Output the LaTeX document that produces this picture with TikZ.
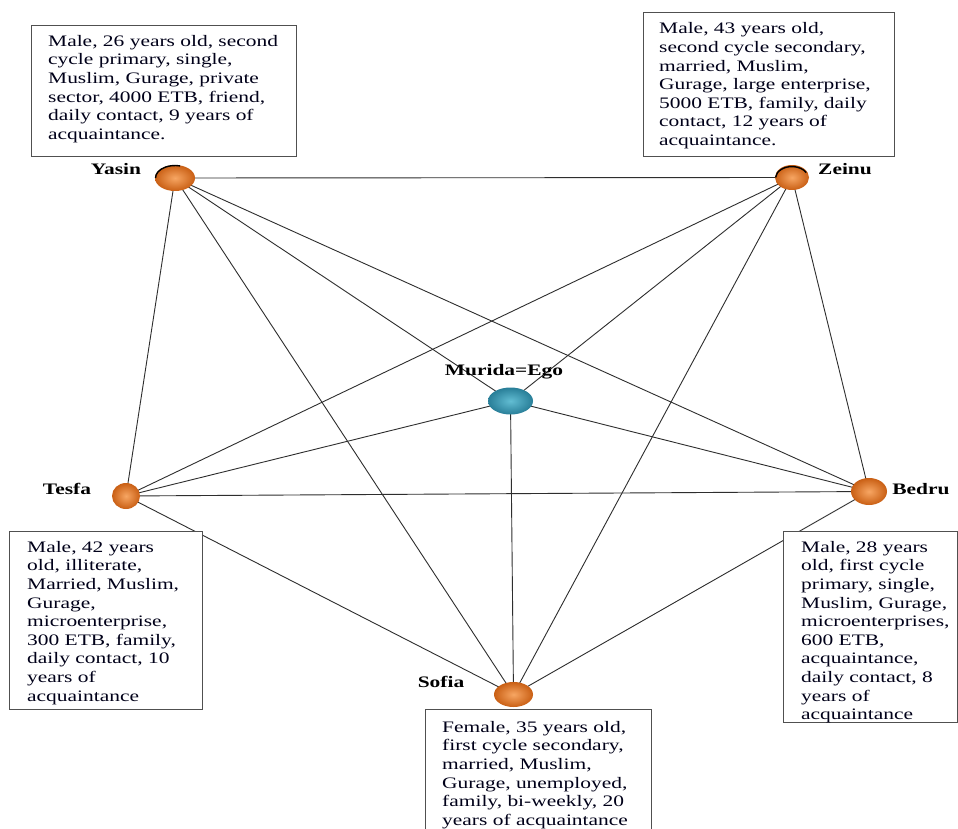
\documentclass[tikz,border=0pt]{standalone}
\usepackage{fontspec}
\setmainfont{Liberation Serif}[FakeStretch=1.34]
\usetikzlibrary{shapes.geometric}
\pgfdeclarelayer{background}
\pgfsetlayers{background,main}

\definecolor{alterfill}{HTML}{E8782A}
\definecolor{alterlight}{HTML}{F7A663}
\definecolor{alterdark}{HTML}{C95F14}
\definecolor{egolight}{HTML}{62BDD3}
\definecolor{egodark}{HTML}{287E98}
\definecolor{tieline}{HTML}{2E2E2E}
\definecolor{boxline}{HTML}{505050}

\tikzset{
  alter/.style={ellipse, inner sep=0pt, draw=none,
    inner color=alterlight, outer color=alterdark},
  egonode/.style={ellipse, inner sep=0pt, draw=none,
    inner color=egolight, outer color=egodark},
  name label/.style={anchor=base, inner sep=0pt, font=\fontsize{16}{18}\selectfont\bfseries},
  tie/.style={draw=tieline, line width=0.9pt},
  infoframe/.style={draw=boxline, line width=1.3pt, anchor=north west,
    inner sep=0pt, fill=white},
  infotext/.style={anchor=north west, inner sep=0pt, align=left,
    font=\fontsize{16}{18.6}\selectfont, text=black!90!blue},
  rim/.style={line width=1.4pt, black}
}

\begin{document}
\begin{tikzpicture}[x=1pt, y=-1pt]
\useasboundingbox (0,0) rectangle (958,829);
\clip (0,0) rectangle (958,829);

% actors of the personal network
\node[alter, minimum width=40pt, minimum height=26pt] (yasin) at (175,178) {};
\node[alter, minimum width=34pt, minimum height=25pt] (zeinu) at (792,177.5) {};
\node[alter, minimum width=28pt, minimum height=26pt] (tesfa) at (126,496) {};
\node[alter, minimum width=36pt, minimum height=27pt] (bedru) at (869,491.5) {};
\node[alter, minimum width=39pt, minimum height=25pt] (sofia) at (513.5,694.5) {};
\node[egonode, minimum width=45pt, minimum height=27pt] (ego) at (510.5,401) {};

% dark rims on the upper edge of two actors
\draw[rim] ([shift={(-19.5,0)}]yasin.center) arc[start angle=180, end angle=285, x radius=19.5, y radius=12.5];
\draw[rim] ([shift={(-16.5,0)}]zeinu.center) arc[start angle=185, end angle=330, x radius=16.5, y radius=12];

% names
\node[name label] (yasinname) at (116,175) {Yasin};
\node[name label] (zeinuname) at (845,175) {Zeinu};
\node[name label] (egoname) at (504,375) {Murida=Ego};
\node[name label] (tesfaname) at (67,494) {Tesfa};
\node[name label] (bedruname) at (921,494) {Bedru};
\node[name label] (sofianame) at (441,687) {Sofia};

% paper and ties: every pair of actors is linked
\begin{pgfonlayer}{background}
  \fill[white] (0,0) rectangle (958,829);
  \foreach \a/\b in {yasin/zeinu, yasin/tesfa, yasin/sofia, yasin/bedru, yasin/ego,
                     zeinu/tesfa, zeinu/sofia, zeinu/bedru, zeinu/ego,
                     tesfa/bedru, tesfa/sofia, tesfa/ego,
                     bedru/sofia, bedru/ego, sofia/ego}
    \draw[tie] (\a.center) -- (\b.center);
\end{pgfonlayer}

% attribute boxes
\node[infoframe, minimum width=265pt, minimum height=131pt] (yasinbox) at (31,25) {};
\node[infotext] (yasintext) at (48,35) {Male, 26 years old, second\\cycle primary, single,\\Muslim, Gurage, private\\sector, 4000 ETB, friend,\\daily contact, 9 years of\\acquaintance.};

\node[infoframe, minimum width=251pt, minimum height=144pt] (zeinubox) at (643,12) {};
\node[infotext] (zeinutext) at (659,22.5) {Male, 43 years old,\\second cycle secondary,\\married, Muslim,\\Gurage, large enterprise,\\5000 ETB, family, daily\\contact, 12 years of\\acquaintance.};

\node[infoframe, minimum width=193pt, minimum height=178pt] (tesfabox) at (9,531) {};
\node[infotext] (tesfatext) at (27,541) {Male, 42 years\\old, illiterate,\\Married, Muslim,\\Gurage,\\microenterprise,\\300 ETB, family,\\daily contact, 10\\years of\\acquaintance};

\node[infoframe, minimum width=174pt, minimum height=191pt] (bedrubox) at (783,531) {};
\node[infotext] (bedrutext) at (801,541) {Male, 28 years\\old, first cycle\\primary, single,\\Muslim, Gurage,\\microenterprises,\\600 ETB,\\acquaintance,\\daily contact, 8\\years of\\acquaintance};

\node[infoframe, minimum width=226pt, minimum height=140pt] (sofiabox) at (425,709) {};
\node[infotext] (sofiatext) at (442,721) {Female, 35 years old,\\first cycle secondary,\\married, Muslim,\\Gurage, unemployed,\\family, bi-weekly, 20\\years of acquaintance};
\end{tikzpicture}
\end{document}
